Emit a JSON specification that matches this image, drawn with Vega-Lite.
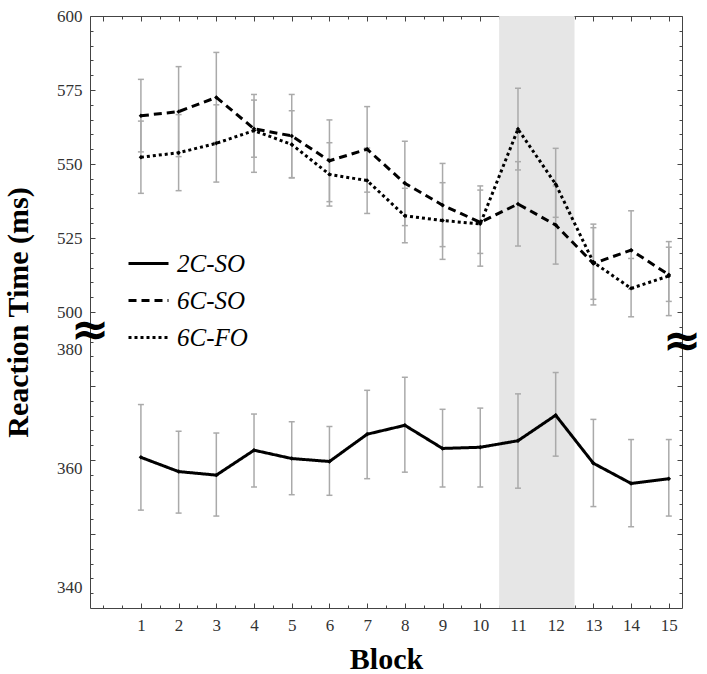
{
  "$schema": "https://vega.github.io/schema/vega-lite/v6.json",
  "autosize": {"type": "none"},
  "padding": {"left": 90, "top": 16, "right": 25, "bottom": 66},
  "width": 592,
  "height": 592,
  "background": "white",
  "config": {
    "font": "Liberation Serif",
    "view": {"stroke": "#444444", "strokeWidth": 1},
    "axis": {
      "grid": false,
      "domain": false,
      "labelFont": "Liberation Serif",
      "labelFontSize": 17,
      "labelColor": "#333333",
      "labelOverlap": false,
      "tickColor": "#444444",
      "tickWidth": 1,
      "titleFont": "Liberation Serif",
      "titleFontSize": 30,
      "titleFontWeight": "bold",
      "titleColor": "black"
    }
  },
  "datasets": {
    "rt": [
      {"block": 1, "series": "2C-SO", "rt": 361.9, "lo": 353.0, "hi": 370.8},
      {"block": 2, "series": "2C-SO", "rt": 359.5, "lo": 352.5, "hi": 366.3},
      {"block": 3, "series": "2C-SO", "rt": 358.9, "lo": 352.0, "hi": 366.0},
      {"block": 4, "series": "2C-SO", "rt": 363.1, "lo": 356.9, "hi": 369.2},
      {"block": 5, "series": "2C-SO", "rt": 361.7, "lo": 355.6, "hi": 367.9},
      {"block": 6, "series": "2C-SO", "rt": 361.2, "lo": 355.5, "hi": 367.1},
      {"block": 7, "series": "2C-SO", "rt": 365.8, "lo": 358.3, "hi": 373.2},
      {"block": 8, "series": "2C-SO", "rt": 367.3, "lo": 359.4, "hi": 375.4},
      {"block": 9, "series": "2C-SO", "rt": 363.4, "lo": 356.9, "hi": 370.0},
      {"block": 10, "series": "2C-SO", "rt": 363.6, "lo": 356.9, "hi": 370.2},
      {"block": 11, "series": "2C-SO", "rt": 364.7, "lo": 356.7, "hi": 372.6},
      {"block": 12, "series": "2C-SO", "rt": 369.0, "lo": 362.1, "hi": 376.2},
      {"block": 13, "series": "2C-SO", "rt": 360.9, "lo": 353.6, "hi": 368.3},
      {"block": 14, "series": "2C-SO", "rt": 357.5, "lo": 350.2, "hi": 364.9},
      {"block": 15, "series": "2C-SO", "rt": 358.3, "lo": 352.0, "hi": 364.9},
      {"block": 1, "series": "6C-SO", "rt": 566.3, "lo": 554.1, "hi": 578.6},
      {"block": 2, "series": "6C-SO", "rt": 567.7, "lo": 552.5, "hi": 582.9},
      {"block": 3, "series": "6C-SO", "rt": 572.5, "lo": 557.3, "hi": 587.7},
      {"block": 4, "series": "6C-SO", "rt": 561.9, "lo": 552.3, "hi": 571.6},
      {"block": 5, "series": "6C-SO", "rt": 559.5, "lo": 545.4, "hi": 573.5},
      {"block": 6, "series": "6C-SO", "rt": 551.1, "lo": 537.3, "hi": 564.9},
      {"block": 7, "series": "6C-SO", "rt": 555.0, "lo": 540.5, "hi": 569.4},
      {"block": 8, "series": "6C-SO", "rt": 543.5, "lo": 529.2, "hi": 557.7},
      {"block": 9, "series": "6C-SO", "rt": 536.1, "lo": 522.1, "hi": 550.2},
      {"block": 10, "series": "6C-SO", "rt": 530.3, "lo": 519.8, "hi": 541.2},
      {"block": 11, "series": "6C-SO", "rt": 536.5, "lo": 522.3, "hi": 550.8},
      {"block": 12, "series": "6C-SO", "rt": 529.4, "lo": 516.2, "hi": 542.6},
      {"block": 13, "series": "6C-SO", "rt": 516.4, "lo": 504.3, "hi": 528.5},
      {"block": 14, "series": "6C-SO", "rt": 520.9, "lo": 507.7, "hi": 534.2},
      {"block": 15, "series": "6C-SO", "rt": 512.6, "lo": 503.6, "hi": 521.9},
      {"block": 1, "series": "6C-FO", "rt": 552.3, "lo": 540.1, "hi": 564.5},
      {"block": 2, "series": "6C-FO", "rt": 553.8, "lo": 541.0, "hi": 566.7},
      {"block": 3, "series": "6C-FO", "rt": 557.0, "lo": 543.9, "hi": 570.0},
      {"block": 4, "series": "6C-FO", "rt": 561.3, "lo": 547.2, "hi": 573.5},
      {"block": 5, "series": "6C-FO", "rt": 556.6, "lo": 545.3, "hi": 568.0},
      {"block": 6, "series": "6C-FO", "rt": 546.5, "lo": 535.8, "hi": 557.2},
      {"block": 7, "series": "6C-FO", "rt": 544.4, "lo": 533.3, "hi": 555.4},
      {"block": 8, "series": "6C-FO", "rt": 532.5, "lo": 523.4, "hi": 541.8},
      {"block": 9, "series": "6C-FO", "rt": 530.9, "lo": 517.8, "hi": 543.7},
      {"block": 10, "series": "6C-FO", "rt": 529.8, "lo": 515.5, "hi": 542.6},
      {"block": 11, "series": "6C-FO", "rt": 561.8, "lo": 548.0, "hi": 575.6},
      {"block": 12, "series": "6C-FO", "rt": 543.2, "lo": 532.0, "hi": 555.3},
      {"block": 13, "series": "6C-FO", "rt": 516.8, "lo": 502.4, "hi": 529.7},
      {"block": 14, "series": "6C-FO", "rt": 508.0, "lo": 498.4, "hi": 518.1},
      {"block": 15, "series": "6C-FO", "rt": 512.2, "lo": 498.8, "hi": 523.8}
    ]
  },
  "layer": [
    {
      "layer": [
        {
          "data": {"values": [{"start": 10.5, "end": 12.5}]},
          "mark": {"type": "rect", "color": "#e6e6e6"},
          "encoding": {
            "x": {"field": "start", "type": "quantitative", "title": "Block",
              "scale": {"domain": [-0.35, 15.35], "nice": false, "zero": false}},
            "x2": {"field": "end"}
          }
        },
        {
          "data": {"name": "rt"},
          "mark": {"type": "rule", "color": "#aaaaaa", "strokeWidth": 1.5},
          "encoding": {
            "x": {"field": "block", "type": "quantitative", "title": "Block",
              "scale": {"domain": [-0.35, 15.35], "nice": false, "zero": false},
              "axis": {"orient": "bottom", "values": [1,2,3,4,5,6,7,8,9,10,11,12,13,14,15], "tickCount": 15,
                "labelOverlap": false, "tickSize": -5, "labelPadding": 14,
                "titleX": 296, "titleY": 60, "titleBaseline": "alphabetic", "titleAlign": "center"}},
            "y": {"field": "lo", "type": "quantitative", "title": "Reaction Time (ms)",
              "scale": {"domain": [336.5, 383.2, 493.6, 600], "range": [592, 315, 315, 0], "nice": false, "zero": false},
              "axis": {"orient": "left", "values": [340, 360, 380], "ticks": false, "tickSize": 0, "labelPadding": 8, "labelOverlap": false,
                "titleAngle": -90, "titleX": -63, "titleY": 296, "titleBaseline": "alphabetic", "titleAlign": "center"}},
            "y2": {"field": "hi"}
          }
        },
        {
          "data": {"name": "rt"},
          "mark": {"type": "point", "shape": "M-1,0L1,0", "size": 36, "filled": false, "stroke": "#aaaaaa", "strokeWidth": 1.5, "opacity": 1},
          "encoding": {
            "x": {"field": "block", "type": "quantitative", "title": "Block",
              "scale": {"domain": [-0.35, 15.35], "nice": false, "zero": false}},
            "y": {"field": "lo", "type": "quantitative", "title": "Reaction Time (ms)",
              "scale": {"domain": [336.5, 383.2, 493.6, 600], "range": [592, 315, 315, 0], "nice": false, "zero": false}}
          }
        },
        {
          "data": {"name": "rt"},
          "mark": {"type": "point", "shape": "M-1,0L1,0", "size": 36, "filled": false, "stroke": "#aaaaaa", "strokeWidth": 1.5, "opacity": 1},
          "encoding": {
            "x": {"field": "block", "type": "quantitative", "title": "Block",
              "scale": {"domain": [-0.35, 15.35], "nice": false, "zero": false}},
            "y": {"field": "hi", "type": "quantitative", "title": "Reaction Time (ms)",
              "scale": {"domain": [336.5, 383.2, 493.6, 600], "range": [592, 315, 315, 0], "nice": false, "zero": false}}
          }
        },
        {
          "data": {"name": "rt"},
          "mark": {"type": "line", "color": "black", "strokeWidth": 3, "strokeCap": "butt"},
          "encoding": {
            "x": {"field": "block", "type": "quantitative", "title": "Block",
              "scale": {"domain": [-0.35, 15.35], "nice": false, "zero": false}},
            "y": {"field": "rt", "type": "quantitative", "title": "Reaction Time (ms)",
              "scale": {"domain": [336.5, 383.2, 493.6, 600], "range": [592, 315, 315, 0], "nice": false, "zero": false}},
            "strokeDash": {"field": "series", "type": "nominal",
              "scale": {"domain": ["2C-SO", "6C-SO", "6C-FO"], "range": [[1, 0], [8, 5], [3, 3]]},
              "legend": {"orient": "none", "legendX": 37, "legendY": 226, "title": null, "symbolType": "stroke",
                "symbolSize": 1600, "symbolStrokeWidth": 3, "symbolStrokeColor": "black",
                "labelFont": "Liberation Serif", "labelFontStyle": "italic", "labelFontSize": 25, "labelColor": "black",
                "labelOffset": 7, "rowPadding": 2, "padding": 0}}
          }
        },
        {
          "data": {"name": "rt"},
          "mark": {"type": "point", "shape": "diamond", "filled": true, "color": "black", "size": 20, "opacity": 1},
          "encoding": {
            "x": {"field": "block", "type": "quantitative", "title": "Block",
              "scale": {"domain": [-0.35, 15.35], "nice": false, "zero": false}},
            "y": {"field": "rt", "type": "quantitative", "title": "Reaction Time (ms)",
              "scale": {"domain": [336.5, 383.2, 493.6, 600], "range": [592, 315, 315, 0], "nice": false, "zero": false}}
          }
        },
        {
          "data": {"values": [{"bx": -0.35, "by": 440, "sym": "≈"}, {"bx": 15.35, "by": 381.3, "sym": "≈"}]},
          "mark": {"type": "text", "font": "DejaVu Sans", "fontWeight": "bold", "fontSize": 46, "align": "center", "baseline": "middle", "color": "black"},
          "encoding": {
            "x": {"field": "bx", "type": "quantitative", "title": "Block",
              "scale": {"domain": [-0.35, 15.35], "nice": false, "zero": false}},
            "y": {"field": "by", "type": "quantitative", "title": "Reaction Time (ms)",
              "scale": {"domain": [336.5, 383.2, 493.6, 600], "range": [592, 315, 315, 0], "nice": false, "zero": false}},
            "text": {"field": "sym"}
          }
        }
      ]
    },
    {
      "data": {"values": [{}]},
      "mark": {"type": "point", "opacity": 0},
      "encoding": {
        "x": {"datum": 0, "type": "quantitative",
          "scale": {"domain": [-0.35, 15.35], "nice": false, "zero": false},
          "axis": {"orient": "top", "values": [0,1,2,3,4,5,6,7,8,9,10,11,12,13,14,15], "labels": false, "tickSize": -5, "title": null}},
        "y": {"datum": 500, "type": "quantitative",
          "scale": {"domain": [400, 600], "nice": false, "zero": false},
          "axis": {"orient": "left", "values": [425, 450, 475, 500, 525, 550, 575, 600], "labelOverlap": false,
            "labelExpr": "datum.value >= 500 ? datum.label : ''", "tickSize": -5, "labelPadding": 13, "title": null}}
      }
    },
    {
      "data": {"values": [{}]},
      "mark": {"type": "point", "opacity": 0},
      "encoding": {
        "x": {"datum": 0, "type": "quantitative",
          "scale": {"domain": [-0.35, 15.35], "nice": false, "zero": false},
          "axis": {"orient": "bottom", "values": [0, 0.5,1.5,2.5,3.5,4.5,5.5,6.5,7.5,8.5,9.5,10.5,11.5,12.5,13.5,14.5], "labels": false, "tickSize": -3, "title": null}},
        "y": {"datum": 500, "type": "quantitative",
          "scale": {"domain": [400, 600], "nice": false, "zero": false},
          "axis": {"orient": "right", "values": [425, 450, 475, 500, 525, 550, 575, 600], "labels": false, "tickSize": -5, "title": null}}
      }
    },
    {
      "data": {"values": [{}]},
      "mark": {"type": "point", "opacity": 0},
      "encoding": {
        "x": {"datum": 0, "type": "quantitative",
          "scale": {"domain": [-0.35, 15.35], "nice": false, "zero": false},
          "axis": {"orient": "top", "values": [0.5,1.5,2.5,3.5,4.5,5.5,6.5,7.5,8.5,9.5,10.5,11.5,12.5,13.5,14.5], "labels": false, "tickSize": -3, "title": null}},
        "y": {"datum": 500, "type": "quantitative",
          "scale": {"domain": [400, 600], "nice": false, "zero": false},
          "axis": {"orient": "left", "values": [405,410,415,420,430,435,440,445,455,460,465,470,480,485,490,495,505,510,515,520,530,535,540,545,555,560,565,570,580,585,590,595], "labels": false, "tickSize": -3, "title": null}}
      }
    },
    {
      "data": {"values": [{}]},
      "mark": {"type": "point", "opacity": 0},
      "encoding": {
        "x": {"datum": 0, "type": "quantitative",
          "scale": {"domain": [-0.35, 15.35], "nice": false, "zero": false}, "axis": null},
        "y": {"datum": 500, "type": "quantitative",
          "scale": {"domain": [400, 600], "nice": false, "zero": false},
          "axis": {"orient": "right", "values": [405,410,415,420,430,435,440,445,455,460,465,470,480,485,490,495,505,510,515,520,530,535,540,545,555,560,565,570,580,585,590,595], "labels": false, "tickSize": -3, "title": null}}
      }
    }
  ],
  "resolve": {"scale": {"x": "independent", "y": "independent"}}
}
